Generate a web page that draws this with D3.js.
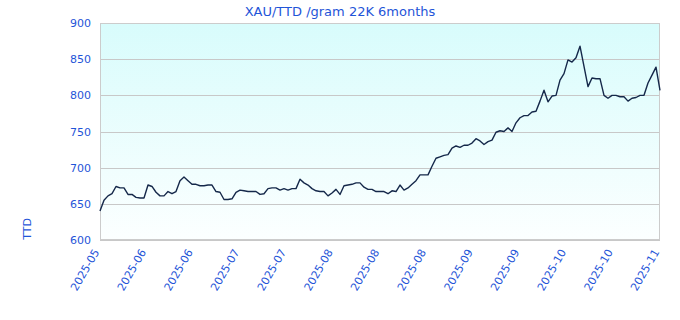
<!DOCTYPE html>
<html>
<head>
<meta charset="utf-8">
<script src="https://cdn.jsdelivr.net/npm/d3@7"></script>
<style>
  html, body { margin: 0; padding: 0; background: #fff; }
  svg { display: block; }
  text { font-family: "DejaVu Sans", Verdana, sans-serif; }
</style>
</head>
<body>
<svg id="chart" width="680" height="320"></svg>
<script>
const title = "XAU/TTD /gram 22K 6months";
const yAxisLabel = "TTD";
const xTickLabels = ["2025-05","2025-06","2025-06","2025-07","2025-07","2025-08","2025-08","2025-08","2025-09","2025-09","2025-10","2025-10","2025-11"];
const yTicks = [600, 650, 700, 750, 800, 850, 900];
const prices = [
  640, 655, 661, 664, 674, 672, 672, 663, 663, 659,
  658, 658, 676, 674, 666, 661, 661, 667, 664, 667,
  682, 687, 682, 677, 677, 675, 675, 676, 676, 667,
  666, 656, 656, 657, 666, 669, 668, 667, 667, 667,
  663, 664, 671, 672, 672, 669, 671, 669, 671, 671,
  684, 679, 676, 671, 668, 667, 667, 661, 665, 670,
  663, 675, 676, 677, 679, 679, 673, 670, 670, 667,
  667, 667, 664, 668, 667, 676, 669, 672, 677, 682,
  690, 690, 690, 702, 713, 715, 717, 718, 727, 730,
  728, 731, 731, 734, 740, 737, 732, 736, 738, 749,
  751, 750, 755, 750, 762, 769, 772, 772, 777, 778,
  792, 807, 791, 799, 800, 821, 830, 849, 846, 852,
  868, 840, 812, 824, 823, 823, 800, 796, 800, 800,
  798, 798, 792, 796, 797, 800, 800, 817, 828, 839,
  807
];

const svg = d3.select("#chart");
const W = 680, H = 320;
const m = { left: 100, right: 20, top: 23, bottom: 80 };
const pw = W - m.left - m.right, ph = H - m.top - m.bottom;

const x = d3.scaleLinear().domain([0, prices.length - 1]).range([m.left, m.left + pw]);
const y = d3.scaleLinear().domain([600, 900]).range([m.top + ph, m.top]);
const xt = d3.scaleLinear().domain([0, xTickLabels.length - 1]).range([m.left, m.left + pw]);

const defs = svg.append("defs");
const grad = defs.append("linearGradient").attr("id", "bg").attr("x1", 0).attr("y1", 0).attr("x2", 0).attr("y2", 1);
grad.append("stop").attr("offset", "0%").attr("stop-color", "#d8fcfc");
grad.append("stop").attr("offset", "100%").attr("stop-color", "#fcffff");

svg.append("rect").attr("x", m.left).attr("y", m.top).attr("width", pw).attr("height", ph)
  .attr("fill", "url(#bg)");

// grid
svg.append("g").selectAll("line").data(yTicks).join("line")
  .attr("x1", m.left).attr("x2", m.left + pw)
  .attr("y1", d => Math.round(y(d)) + 0.5).attr("y2", d => Math.round(y(d)) + 0.5)
  .attr("stroke", "#c8c8c8").attr("stroke-width", 1);

// border
svg.append("rect").attr("x", m.left + 0.5).attr("y", m.top + 0.5).attr("width", pw - 1).attr("height", ph - 1)
  .attr("fill", "none").attr("stroke", "#cccccc").attr("stroke-width", 1);

// y tick labels
const yAxis = d3.axisLeft(y).tickValues(yTicks).tickSize(0).tickPadding(9);
const gy = svg.append("g").attr("transform", `translate(${m.left},0)`).call(yAxis);
gy.select(".domain").remove();
gy.selectAll("text").attr("fill", "#1f55d8").style("font-size", "11px").style("font-family", '"DejaVu Sans", Verdana, sans-serif');

// x tick labels
const xAxis = d3.axisBottom(xt).tickValues(d3.range(xTickLabels.length)).tickFormat(i => xTickLabels[i]).tickSize(0);
const gx = svg.append("g").attr("transform", `translate(0,${m.top + ph})`).call(xAxis);
gx.select(".domain").remove();
gx.selectAll("text")
  .attr("fill", "#1f55d8").style("font-size", "11px").style("font-family", '"DejaVu Sans", Verdana, sans-serif')
  .attr("text-anchor", "end").attr("dy", "0.35em")
  .attr("transform", "translate(-4,10) rotate(-60)").attr("x", 0).attr("y", 0);

// line
const line = d3.line().x((d, i) => x(i)).y(d => y(d));
svg.append("path").datum(prices).attr("d", line)
  .attr("fill", "none").attr("stroke", "#15284a").attr("stroke-width", 1.4).attr("stroke-linejoin", "round");

// title
svg.append("text").attr("x", 340).attr("y", 16).attr("text-anchor", "middle")
  .attr("fill", "#1f55d8").style("font-size", "13px").text(title);

// y axis label
svg.append("text").attr("transform", `translate(31,229) rotate(-90)`).attr("text-anchor", "middle")
  .attr("fill", "#1f55d8").style("font-size", "11px").text(yAxisLabel);
</script>
</body>
</html>
